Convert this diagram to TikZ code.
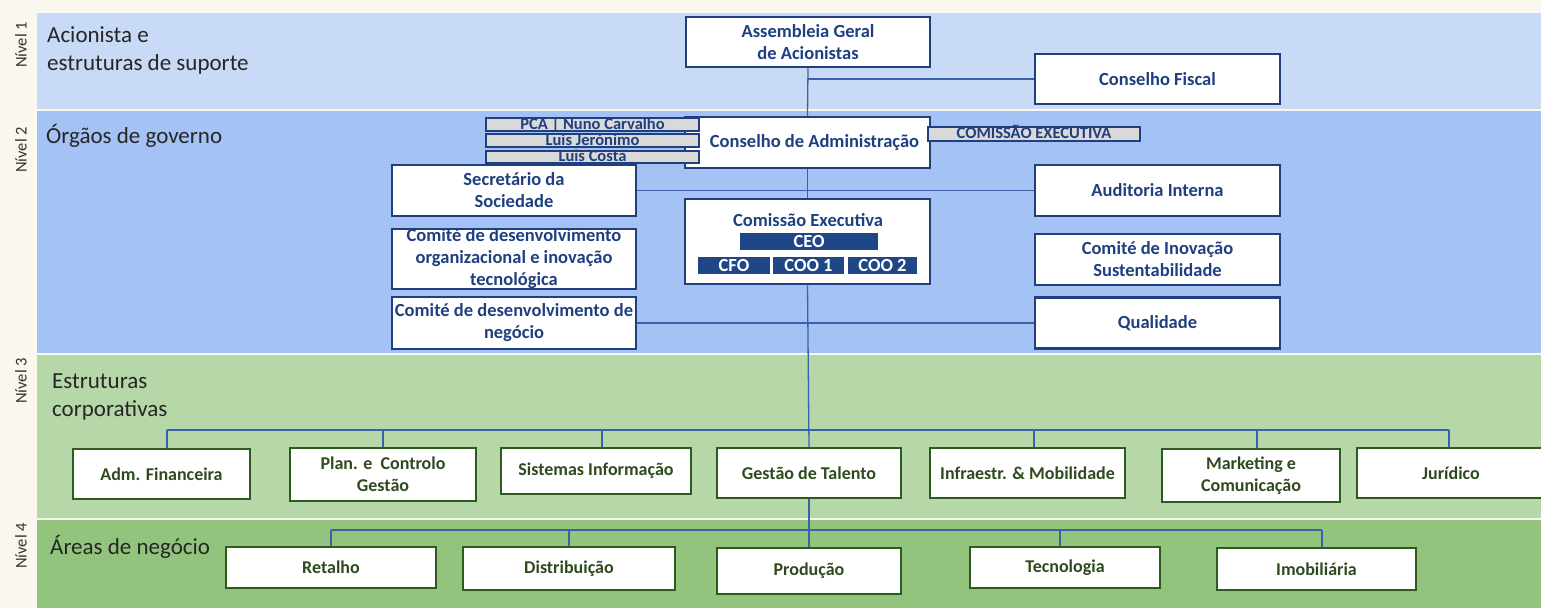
\documentclass[tikz,border=0pt]{standalone}
\usepackage{fontspec}
\setmainfont{Carlito}
\definecolor{cream}{HTML}{FAF8EE}
\definecolor{bandA}{HTML}{C9DAF6}
\definecolor{bandB}{HTML}{A4C2F4}
\definecolor{bandC}{HTML}{B6D7A8}
\definecolor{bandD}{HTML}{93C47D}
\definecolor{bblue}{HTML}{1F3F7F}
\definecolor{tblue}{HTML}{1F3F80}
\definecolor{gborder}{HTML}{2D5B1E}
\definecolor{tgreen}{HTML}{2E4A1E}
\definecolor{conn}{HTML}{3A62A6}
\definecolor{greybox}{HTML}{D9D9D9}
\definecolor{dblue}{HTML}{1F4788}
\definecolor{labgray}{HTML}{333333}
\pgfdeclarelayer{bandlayer}
\pgfdeclarelayer{connlayer}
\pgfsetlayers{bandlayer,connlayer,main}
\begin{document}
\begin{tikzpicture}[x=1pt,y=-1pt,
  sz/.style 2 args={minimum width=#1pt,minimum height=#2pt},
  bluebox/.style={draw=bblue,line width=2.5pt,fill=white,text=tblue,
    font=\bfseries\fontsize{18.5}{22}\selectfont,align=center,inner sep=0pt},
  greenbox/.style={draw=gborder,line width=2.5pt,fill=white,text=tgreen,
    font=\bfseries\fontsize{18}{22}\selectfont,align=center,inner sep=0pt},
  greytag/.style={draw=bblue,line width=2pt,fill=greybox,text=tblue,
    font=\bfseries\fontsize{16.5}{18}\selectfont,inner sep=0pt,
    text height=10.5pt,text depth=1.5pt},
  execbox/.style={fill=dblue,text=white,
    font=\bfseries\fontsize{18.5}{20}\selectfont,inner sep=0pt},
  nivel/.style={rotate=90,text=labgray,font=\fontsize{16.5}{18}\selectfont,inner sep=0pt},
  bandtitle/.style={text=black!85,font=\fontsize{23}{28}\selectfont,align=left,inner sep=0pt},
  connector/.style={draw=conn,line width=1.3pt}
]
\useasboundingbox (0,0) rectangle (1541,608);
% backgrounds
\begin{pgfonlayer}{bandlayer}
\fill[cream] (0,0) rectangle (1541,608);
\fill[bandA] (37,13) rectangle (1541,109);
\fill[bandB] (37,111) rectangle (1541,353);
\fill[bandC] (37,355) rectangle (1541,518);
\fill[bandD] (37,520) rectangle (1541,608);
\end{pgfonlayer}

% level labels
\node[nivel] (n1) at (21,45) {Nível 1};
\node[nivel] (n2) at (21,150) {Nível 2};
\node[nivel] (n3) at (21,381) {Nível 3};
\node[nivel] (n4) at (21,546) {Nível 4};

\node[bandtitle,anchor=north west] (t1) at (47,26) {Acionista e\\estruturas de suporte};
\node[bandtitle,anchor=base west] (t2) at (46,143) {Órgãos de governo};
\node[bandtitle,anchor=north west] (t3) at (52,374) {Estruturas\\corporativas};
\node[bandtitle,anchor=base west] (t4) at (50,554) {Áreas de negócio};

% coordinates for buses
\coordinate (bus3) at (808,430);
\coordinate (bus4) at (808,530);

% level 1
\node[bluebox,sz={244}{50}] (asm) at (808,42) {Assembleia Geral\\de Acionistas};
\node[bluebox,sz={245}{50}] (fiscal) at (1157.5,79) {Conselho Fiscal};

% level 2
\node[bluebox,sz={245}{51}] (cda) at (807.5,142.5) {\hspace*{14pt}Conselho de Administração};
\node[greytag,sz={213}{13}] (pca) at (592.5,124.5) {PCA | Nuno Carvalho};
\node[greytag,sz={213}{13}] (lj) at (592.5,140.5) {Luis Jerónimo};
\node[greytag,sz={213}{12}] (lc) at (592.5,157) {Luis Costa};
\node[greytag,sz={212}{14}] (cex) at (1034,134) {COMISSÃO EXECUTIVA};

\node[bluebox,sz={244}{51}] (sec) at (514,190.5) {Secretário da\\Sociedade};
\node[bluebox,sz={245}{51}] (aud) at (1157.5,190.5) {Auditoria Interna};
\node[bluebox,sz={245}{85}] (ce) at (807.5,241.5) {};
\node[text=tblue,font=\bfseries\fontsize{18.5}{22}\selectfont,inner sep=0pt] (cet) at (808,220) {Comissão Executiva};
\node[execbox,sz={138}{17}] (ceo) at (809,241.5) {CEO};
\node[execbox,sz={72}{17}] (cfo) at (734,265.5) {CFO};
\node[execbox,sz={71}{17}] (coo1) at (808.5,265.5) {COO 1};
\node[execbox,sz={69}{17}] (coo2) at (882.5,265.5) {COO 2};

\node[bluebox,sz={244}{60}] (cdo) at (514,259) {Comité de desenvolvimento\\organizacional e inovação\\tecnológica};
\node[bluebox,sz={245}{51}] (cis) at (1157.5,259.5) {Comité de Inovação\\Sustentabilidade};
\node[bluebox,sz={244}{52}] (cdn) at (514,323) {Comité de desenvolvimento de\\negócio};
\node[bluebox,sz={245}{51}] (qual) at (1157.5,323) {Qualidade};

% level 3
\node[greenbox,sz={177}{50}] (adm) at (161.5,474) {Adm. Financeira};
\node[greenbox,sz={186}{53}] (plan) at (383,474.5) {Plan. e\ \ Controlo\\Gestão};
\node[greenbox,sz={190}{46}] (sis) at (596,471) {Sistemas Informação};
\node[greenbox,sz={184}{50}] (gt) at (809,473) {Gestão de Talento};
\node[greenbox,sz={195}{50}] (inf) at (1027.5,473) {Infraestr. \& Mobilidade};
\node[greenbox,sz={178}{53}] (mkt) at (1251,475.5) {Marketing e\\Comunicação};
\node[greenbox,sz={188}{50}] (jur) at (1451,473) {Jurídico};

% level 4
\node[greenbox,sz={210}{41}] (ret) at (331,567.5) {Retalho};
\node[greenbox,sz={212}{43}] (dis) at (569,568.5) {Distribuição};
\node[greenbox,sz={184}{46}] (prod) at (809,571) {Produção};
\node[greenbox,sz={190}{41}] (tec) at (1065,567.5) {Tecnologia};
\node[greenbox,sz={199}{42}] (imo) at (1316.5,569) {Imobiliária};

% connectors (behind boxes)
\begin{pgfonlayer}{connlayer}
\path[connector] (asm.south) -- (cda.north);
\path[connector] (asm.south |- fiscal.west) -- (fiscal.west);
\path[connector] (cda.south) -- (ce.north);
\path[connector] (sec.east) -- (aud.west);
\path[connector] (cdn.east) -- (cdn.east -| qual.west);
\path[connector] (ce.south) -- (gt.north);
\path[connector] (gt.south) -- (prod.north);
% level 3 bus
\path[connector] ([xshift=5.5pt]adm.north |- bus3) -- ([xshift=-2pt]jur.north |- bus3);
\path[connector] ([xshift=5.5pt]adm.north) -- ([xshift=5.5pt]adm.north |- bus3);
\path[connector] (plan.north) -- (plan.north |- bus3);
\path[connector] ([xshift=6pt]sis.north) -- ([xshift=6pt]sis.north |- bus3);
\path[connector] ([xshift=6.5pt]inf.north) -- ([xshift=6.5pt]inf.north |- bus3);
\path[connector] ([xshift=6pt]mkt.north) -- ([xshift=6pt]mkt.north |- bus3);
\path[connector] ([xshift=-2pt]jur.north) -- ([xshift=-2pt]jur.north |- bus3);
% level 4 bus
\path[connector] (ret.north |- bus4) -- ([xshift=5.5pt]imo.north |- bus4);
\path[connector] (ret.north) -- (ret.north |- bus4);
\path[connector] (dis.north) -- (dis.north |- bus4);
\path[connector] ([xshift=-5pt]tec.north) -- ([xshift=-5pt]tec.north |- bus4);
\path[connector] ([xshift=5.5pt]imo.north) -- ([xshift=5.5pt]imo.north |- bus4);
\end{pgfonlayer}
\end{tikzpicture}
\end{document}
